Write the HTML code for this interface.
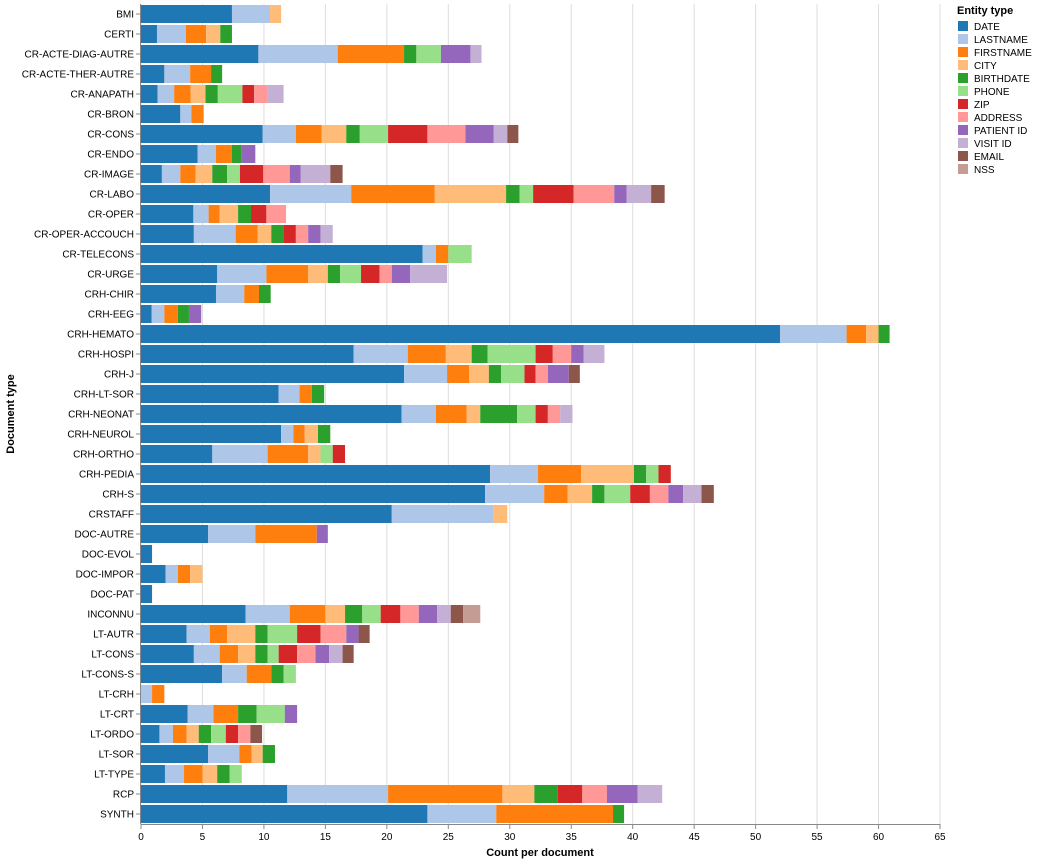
<!DOCTYPE html>
<html><head><meta charset="utf-8"><style>
body{margin:0;background:#fff;font-family:"Liberation Sans",Arial,sans-serif;}
svg text{font-family:"Liberation Sans",Arial,sans-serif;}
</style></head><body>
<svg id="chart" width="1037" height="862" xmlns="http://www.w3.org/2000/svg">
<g id="grid"></g>
<g id="bars"></g>
<g id="yaxis"></g>
<g id="xaxis"></g>
<text x="540" y="856" text-anchor="middle" font-size="11" font-weight="bold" fill="#000">Count per document</text>
<text transform="translate(14,414) rotate(-90)" text-anchor="middle" font-size="11" font-weight="bold" fill="#000">Document type</text>
<g id="legend"></g>
</svg>
<script>
const categories=["BMI","CERTI","CR-ACTE-DIAG-AUTRE","CR-ACTE-THER-AUTRE","CR-ANAPATH","CR-BRON","CR-CONS","CR-ENDO","CR-IMAGE","CR-LABO","CR-OPER","CR-OPER-ACCOUCH","CR-TELECONS","CR-URGE","CRH-CHIR","CRH-EEG","CRH-HEMATO","CRH-HOSPI","CRH-J","CRH-LT-SOR","CRH-NEONAT","CRH-NEUROL","CRH-ORTHO","CRH-PEDIA","CRH-S","CRSTAFF","DOC-AUTRE","DOC-EVOL","DOC-IMPOR","DOC-PAT","INCONNU","LT-AUTR","LT-CONS","LT-CONS-S","LT-CRH","LT-CRT","LT-ORDO","LT-SOR","LT-TYPE","RCP","SYNTH"];
const entityTypes=["DATE","LASTNAME","FIRSTNAME","CITY","BIRTHDATE","PHONE","ZIP","ADDRESS","PATIENT ID","VISIT ID","EMAIL","NSS"];
const colors=["#1f77b4","#aec7e8","#ff7f0e","#ffbb78","#2ca02c","#98df8a","#d62728","#ff9896","#9467bd","#c5b0d5","#8c564b","#c49c94"];
const dateVals=[7.4,1.3,9.55,1.9,1.35,3.2,9.9,4.6,1.7,10.5,4.26,4.3,22.9,6.2,6.1,0.87,52.0,17.3,21.4,11.2,21.2,11.4,5.8,28.4,28.0,20.4,5.45,0.9,2.0,0.9,8.5,3.7,4.3,6.6,0,3.8,1.5,5.45,1.95,11.9,23.3];
const lastnameVals=[3.1,2.35,6.45,2.1,1.35,0.9,2.7,1.5,1.5,6.6,1.24,3.4,1.1,4.0,2.3,1.03,5.4,4.4,3.5,1.7,2.8,1.0,4.5,3.9,4.8,8.3,3.85,0,1.0,0,3.6,1.9,2.1,2.0,0.9,2.1,1.1,2.55,1.55,8.2,5.6];
const firstnameVals=[0,1.65,5.4,1.7,1.35,1.0,2.1,1.3,1.25,6.8,0.9,1.8,1.0,3.4,1.2,1.1,1.6,3.1,1.8,1.0,2.5,0.9,3.3,3.5,1.9,0,5.0,0,1.0,0,2.9,1.4,1.5,2.0,1.0,2.0,1.1,1.0,1.5,9.3,9.5];
const cityVals=[0.9,1.15,0,0,1.2,0,2.0,0,1.35,5.8,1.5,1.1,0,1.6,0,0,1.0,2.1,1.6,0,1.1,1.1,1.0,4.3,2.0,1.1,0,0,1.0,0,1.6,2.3,1.4,0,0,0,1.0,0.9,1.2,2.6,0];
const birthdateVals=[0,0.95,1.0,0.9,1.0,0,1.1,0.8,1.2,1.1,1.05,1.0,0,1.0,0.95,0.9,0.9,1.3,1.0,1.0,3.0,1.0,0,1.0,1.0,0,0,0,0,0,1.4,1.0,1.0,1.0,0,1.5,1.0,1.0,1.0,1.9,0.9];
const phoneVals=[0,0,2.0,0,2.0,0,2.3,0,1.05,1.1,0,0,1.9,1.7,0,0,0,3.9,1.9,0,1.5,0,1.0,1.0,2.1,0,0,0,0,0,1.5,2.4,0.9,1.0,0,2.3,1.2,0,1.0,0,0];
const zipVals=[0,0,0,0,0.95,0,3.2,0,1.9,3.3,1.25,1.0,0,1.5,0,0,0,1.4,0.9,0,1.0,0,1.0,1.0,1.6,0,0,0,0,0,1.6,1.9,1.5,0,0,0,1.0,0,0,2.0,0];
const addressVals=[0,0,0,0,1.1,0,3.1,0,2.15,3.3,1.6,1.0,0,1.0,0,0,0,1.5,1.0,0,1.0,0,0,0,1.5,0,0,0,0,0,1.5,2.1,1.5,0,0,0,1.0,0,0,2.0,0];
const patientVals=[0,0,2.4,0,0,0,2.3,1.1,0.9,1.0,0,1.0,0,1.5,0,1.0,0,1.0,1.7,0,0,0,0,0,1.2,0,0.9,0,0,0,1.5,1.0,1.1,0,0,1.0,0,0,0,2.5,0];
const visitVals=[0,0,0.9,0,1.3,0,1.1,0,2.4,2.0,0,1.0,0,3.0,0,0,0,1.7,0,0,1.0,0,0,0,1.5,0,0,0,0,0,1.1,0,1.1,0,0,0,0,0,0,2.0,0];
const emailVals=[0,0,0,0,0,0,0.9,0,1.0,1.1,0,0,0,0,0,0,0,0,0.9,0,0,0,0,0,1.0,0,0,0,0,0,1.0,0.9,0.9,0,0,0,0.95,0,0,0,0];
const nssVals=[0,0,0,0,0,0,0,0,0,0,0,0,0,0,0,0,0,0,0,0,0,0,0,0,0,0,0,0,0,0,1.4,0,0,0,0,0,0,0,0,0,0];
const xTicks=[0,5,10,15,20,25,30,35,40,45,50,55,60,65];

const series=[dateVals,lastnameVals,firstnameVals,cityVals,birthdateVals,phoneVals,zipVals,addressVals,patientVals,visitVals,emailVals,nssVals];
const NS="http://www.w3.org/2000/svg";
const X0=141,X1=940,TOP=4,STEP=20;
const xScale=v=>X0+(v/65)*(X1-X0);
const yBand=i=>TOP+i*STEP;
function mk(tag,attrs,parent){const e=document.createElementNS(NS,tag);for(const k in attrs)e.setAttribute(k,attrs[k]);parent.appendChild(e);return e;}
const grid=document.getElementById('grid'),bars=document.getElementById('bars'),ya=document.getElementById('yaxis'),xa=document.getElementById('xaxis'),lg=document.getElementById('legend');
const bottom=yBand(categories.length);
xTicks.forEach(t=>{
  const gl=mk('line',{x1:xScale(t),x2:xScale(t),y1:TOP,y2:bottom,stroke:'#ddd','stroke-width':1},grid);
  
  
  const tk=mk('line',{x1:xScale(t),x2:xScale(t),y1:bottom,y2:bottom+5,stroke:'#888'},xa);
  
  
  const tl=mk('text',{x:xScale(t),y:bottom+16,'text-anchor':'middle','font-size':10,fill:'#000'},xa);
  tl.textContent=t;
  
  
});
mk('line',{x1:X0,x2:X1,y1:bottom+0.5,y2:bottom+0.5,stroke:'#888'},xa);
mk('line',{x1:X0-0.5,x2:X0-0.5,y1:TOP,y2:bottom,stroke:'#888'},ya);
categories.forEach((c,i)=>{
  const yc=yBand(i)+STEP/2;
  const tk=mk('line',{x1:X0-5,x2:X0,y1:yc,y2:yc,stroke:'#888'},ya);
  
  
  const tl=mk('text',{x:X0-7,y:yc+3.5,'text-anchor':'end','font-size':10,fill:'#000'},ya);
  tl.textContent=c;
  
  
  let acc=0;
  series.forEach((s,k)=>{
    const v=s[i];
    if(v>0){
      const r=mk('rect',{x:xScale(acc),y:yBand(i)+1,width:xScale(acc+v)-xScale(acc),height:STEP-2,fill:colors[k]},bars);
      
      
    }
    acc+=v;
  });
});
const lt=mk('text',{x:957,y:14,'font-size':11,'font-weight':'bold',fill:'#000'},lg);
lt.textContent='Entity type';


entityTypes.forEach((n,k)=>{
  const y=21+k*13;
  const sw=mk('rect',{x:958,y:y,width:10,height:10,fill:colors[k]},lg);
  
  
  const t=mk('text',{x:974,y:y+9,'font-size':10,fill:'#000'},lg);
  t.textContent=n;
  
  
});
</script>
</body></html>
